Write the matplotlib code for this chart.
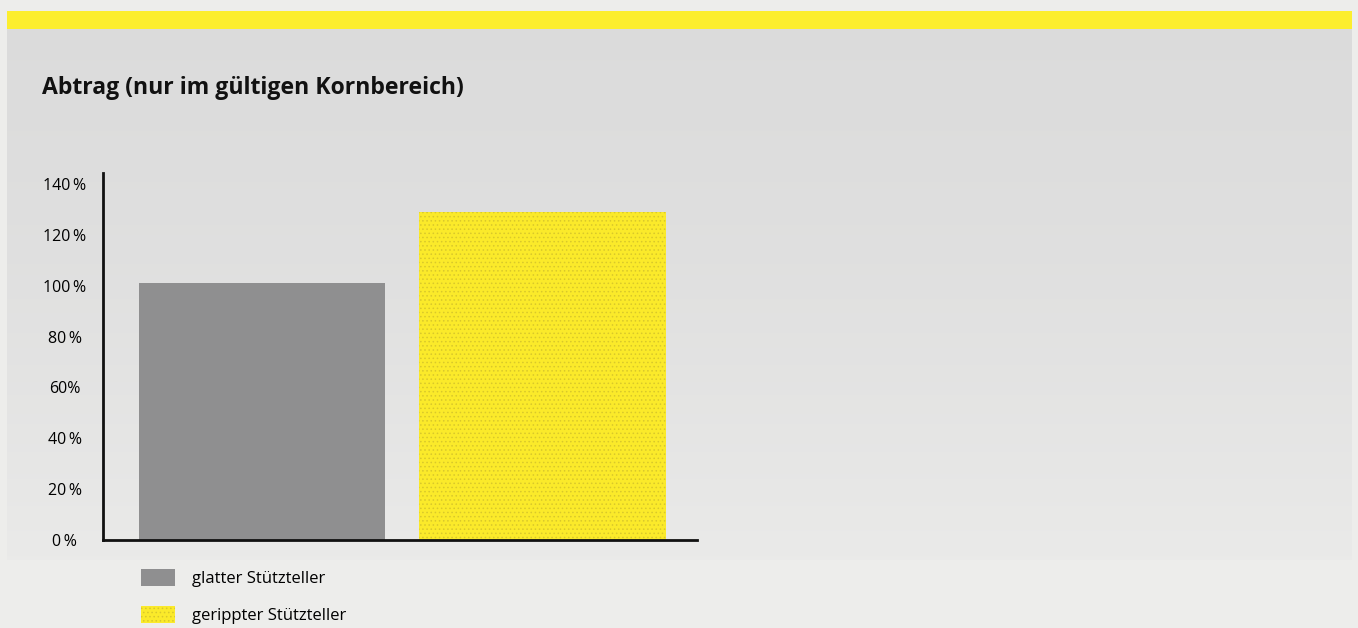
import matplotlib.pyplot as plt
import matplotlib.patches as mpatches
import numpy as np

# data
categories = ["glatter Stützteller", "gerippter Stützteller"]
values = [101, 129]
yticks = [0, 20, 40, 60, 80, 100, 120, 140]
ytick_labels = ["0\u2009%", "20\u2009%", "40\u2009%", "60%", "80\u2009%", "100\u2009%", "120\u2009%", "140\u2009%"]
title = "Abtrag (nur im gültigen Kornbereich)"

bar_colors = ["#8f8f90", "#fbea2a"]
yellow = "#fcee2e"
W, H = 1358, 628

plt.rcParams['font.family'] = ['Open Sans', 'DejaVu Sans']
plt.rcParams['hatch.linewidth'] = 0.6

fig = plt.figure(figsize=(W / 100, H / 100), dpi=100)
fig.patch.set_facecolor("#ededeb")

# background panel with a soft vertical gradient
bg = fig.add_axes([0, 0, 1, 1], zorder=-10)
bg.set_xlim(0, W)
bg.set_ylim(H, 0)
bg.axis("off")
grad = np.linspace(0, 1, 200).reshape(-1, 1)
top = np.array([0.862, 0.862, 0.862])
bot = np.array([0.918, 0.918, 0.914])
img = top + (bot - top) * grad[..., None] ** 1.5
bg.imshow(img, extent=(7, 1352, 560, 29), aspect="auto", interpolation="bilinear")
bg.add_patch(mpatches.Rectangle((7, 11), 1345, 18, color=yellow, lw=0))
bg.text(42, 88, title, fontsize=16.6, fontweight="bold", va="center", ha="left",
        color="#111111")

# chart axes
ax = fig.add_axes([103 / W, 88 / H, 594 / W, 367 / H])
ax.patch.set_alpha(0)
x = np.arange(len(categories))
bars = ax.bar(x, values, width=0.878, color=bar_colors, linewidth=0)
bars[1].set_hatch("....")
bars[1].set_edgecolor("#d9c82a")

ax.set_xlim(-0.567, 1.551)
ax.set_ylim(0, 144.3)
ax.set_yticks(yticks)
ax.set_yticklabels(ytick_labels, ha="center", fontsize=11.5)
ax.tick_params(axis="y", length=0, pad=27.5)
ax.set_xticks([])
for s in ["top", "right"]:
    ax.spines[s].set_visible(False)
for s in ["left", "bottom"]:
    ax.spines[s].set_linewidth(2)
    ax.spines[s].set_color("#111111")

handles = [
    mpatches.Patch(facecolor=bar_colors[0], linewidth=0),
    mpatches.Patch(facecolor=bar_colors[1], edgecolor="#d9c82a", hatch="....", linewidth=0),
]
fig.legend(handles, categories, loc="upper left", bbox_to_anchor=(126 / W, 1 - 554 / H),
           frameon=False, fontsize=12, handlelength=2.04, handleheight=1.2,
           handletextpad=1.02, labelspacing=1.12)

fig.savefig("out.png", dpi=100, facecolor=fig.get_facecolor())
